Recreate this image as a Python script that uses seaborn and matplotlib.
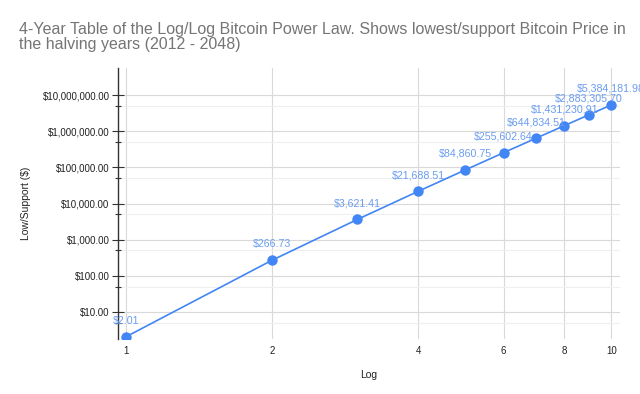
import matplotlib
matplotlib.use("Agg")
import matplotlib.pyplot as plt
import matplotlib.ticker as mticker
import seaborn as sns
import pandas as pd

x_log = [1, 2, 3, 4, 5, 6, 7, 8, 9, 10]
low_support = [2.01, 266.73, 3621.41, 21688.51, 84860.75, 255602.64,
               644834.51, 1431230.91, 2883305.70, 5384181.98]
x_ticks = [1, 2, 4, 6, 8, 10]
y_ticks = [10, 100, 1000, 10000, 100000, 1000000, 10000000]
title = "4-Year Table of the Log/Log Bitcoin Power Law. Shows lowest/support Bitcoin Price in\nthe halving years (2012 - 2048)"

df = pd.DataFrame({"Log": x_log, "Low/Support ($)": low_support})

sns.set_theme(style="white")
plt.rcParams['font.family'] = ['Liberation Sans', 'DejaVu Sans']

fig = plt.figure(figsize=(6.4, 3.94), dpi=100)
ax = fig.add_axes([0.184, 0.140, 0.785, 0.687])

line_color = "#4285F4"
sns.lineplot(data=df, x="Log", y="Low/Support ($)", ax=ax, color=line_color,
             linewidth=1.2, marker="o", markersize=7.5, markeredgewidth=0,
             clip_on=True, zorder=3)

ax.set_xscale("log")
ax.set_yscale("log")
ax.set_xlim(0.963, 10.43)
ax.set_ylim(1.78, 10 ** 7.75)

ax.xaxis.set_major_locator(mticker.FixedLocator(x_ticks))
ax.xaxis.set_major_formatter(mticker.FixedFormatter([str(t) for t in x_ticks]))
ax.xaxis.set_minor_locator(mticker.NullLocator())
ax.yaxis.set_major_locator(mticker.FixedLocator(y_ticks))
ax.yaxis.set_major_formatter(mticker.FixedFormatter([f"${t:,.2f}" for t in y_ticks]))
ax.yaxis.set_minor_locator(mticker.FixedLocator([5 * t for t in [1] + y_ticks[:-1]]))
ax.yaxis.set_minor_formatter(mticker.NullFormatter())

ax.grid(True, which="major", axis="both", color="#d9d9d9", linewidth=0.8)
ax.grid(True, which="minor", axis="y", color="#efefef", linewidth=0.8)
ax.set_axisbelow(True)

for s in ["top", "right", "bottom"]:
    ax.spines[s].set_visible(False)
ax.spines["left"].set_color("#333333")
ax.spines["left"].set_linewidth(1.0)

ax.tick_params(axis="y", which="major", direction="inout", length=8, width=0.8,
               color="#333333", labelsize=7, labelcolor="#222222", pad=2, left=True)
ax.tick_params(axis="y", which="minor", direction="inout", length=5, width=0.8,
               color="#333333", left=True)
ax.tick_params(axis="x", which="major", length=0, labelsize=7,
               labelcolor="#222222", pad=5)

ax.set_xlabel("Log", fontsize=7.5, color="#222222", labelpad=10)
ax.set_ylabel("Low/Support ($)", fontsize=7.5, color="#222222", labelpad=8)

for xv, yv in zip(x_log, low_support):
    ax.annotate(f"${yv:,.2f}", (xv, yv), xytext=(0, 8), textcoords="offset points",
                ha="center", va="bottom", fontsize=7.7, color="#6a9cf0",
                annotation_clip=False)

fig.text(0.03, 0.945, title, ha="left", va="top", fontsize=11.5,
         color="#757575", linespacing=1.0)

fig.savefig("out.png", dpi=100)
